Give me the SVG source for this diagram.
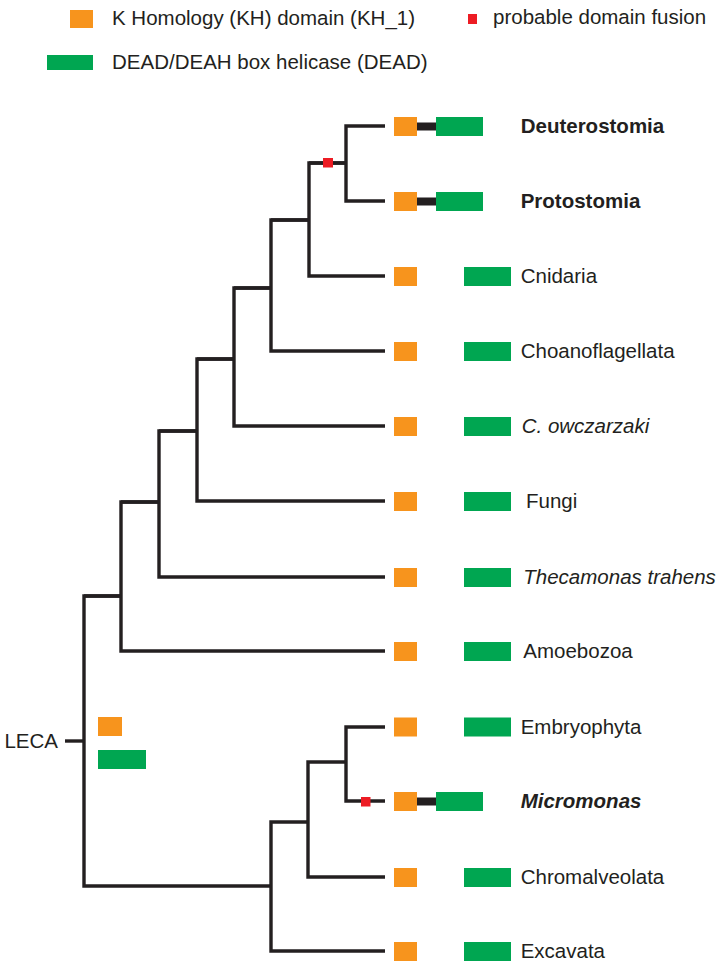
<svg xmlns="http://www.w3.org/2000/svg" width="717" height="966" viewBox="0 0 717 966">
<style>
  .t { font-family: "Liberation Sans", Arial, sans-serif; font-size: 20.5px; fill: #231f20; }
  .b { font-weight: bold; }
  .i { font-style: italic; }
  .kh { fill: #f7941d; }
  .dd { fill: #00a651; }
  .fu { fill: #ed1c24; }
  .lk { fill: #231f20; }
  .br { fill: none; stroke: #231f20; stroke-width: 3.4; stroke-linejoin: miter; stroke-linecap: butt; }
</style>
<rect width="717" height="966" fill="#ffffff"/>

<g id="legend">
  <rect class="kh" x="70" y="10" width="23" height="18"/>
  <text class="t" x="112" y="25">K Homology (KH) domain (KH_1)</text>
  <rect class="dd" x="47" y="55" width="46" height="15"/>
  <text class="t" x="112" y="69">DEAD/DEAH box helicase (DEAD)</text>
  <rect class="fu" x="468" y="14" width="9" height="10"/>
  <text class="t" x="493" y="24">probable domain fusion</text>
</g>

<g id="connectors">
  <path class="br" d="M385,126 H346 V201 H385"/>
  <path class="br" d="M309,163 H346"/>
  <path class="br" d="M346,163 H309 V276 H385"/>
  <path class="br" d="M271,220 H309"/>
  <path class="br" d="M309,220 H271 V351 H385"/>
  <path class="br" d="M234,288 H271"/>
  <path class="br" d="M271,288 H234 V426 H385"/>
  <path class="br" d="M197,359 H234"/>
  <path class="br" d="M234,359 H197 V501 H385"/>
  <path class="br" d="M159,431 H197"/>
  <path class="br" d="M197,431 H159 V577 H385"/>
  <path class="br" d="M121,502 H159"/>
  <path class="br" d="M159,502 H121 V651 H385"/>
  <path class="br" d="M84,596 H121"/>
  <path class="br" d="M121,596 H84 V886 H271"/>
  <path class="br" d="M65,741 H84"/>
  <path class="br" d="M308,822 H271 V951 H385"/>
  <path class="br" d="M346,762 H308 V877 H385"/>
  <path class="br" d="M385,727 H346 V801 H385"/>
  <rect class="fu" x="323" y="158" width="10" height="9.5"/>
  <rect class="fu" x="361" y="797" width="9.5" height="9.5"/>
</g>

<g id="LECA">
  <text class="t" x="58" y="748" text-anchor="end">LECA</text>
  <rect class="kh" x="98" y="717" width="24" height="19"/>
  <rect class="dd" x="98" y="750" width="48" height="19"/>
</g>

<g id="Deuterostomia">
  <rect class="kh" x="394" y="117" width="23" height="19"/>
  <rect class="lk" x="417" y="122.5" width="19" height="8"/>
  <rect class="dd" x="436" y="117" width="47" height="19"/>
  <text class="t b" x="520.7" y="133">Deuterostomia</text>
</g>
<g id="Protostomia">
  <rect class="kh" x="394" y="192" width="23" height="19"/>
  <rect class="lk" x="417" y="197.5" width="19" height="8"/>
  <rect class="dd" x="436" y="192" width="47" height="19"/>
  <text class="t b" x="520.7" y="208">Protostomia</text>
</g>
<g id="Cnidaria">
  <rect class="kh" x="394" y="267" width="23" height="19"/>
  <rect class="dd" x="464" y="267" width="47" height="19"/>
  <text class="t" x="520.7" y="283">Cnidaria</text>
</g>
<g id="Choanoflagellata">
  <rect class="kh" x="394" y="342" width="23" height="19"/>
  <rect class="dd" x="464" y="342" width="47" height="19"/>
  <text class="t" x="520.7" y="358">Choanoflagellata</text>
</g>
<g id="Cowczarzaki">
  <rect class="kh" x="394" y="417" width="23" height="19"/>
  <rect class="dd" x="464" y="417" width="47" height="19"/>
  <text class="t i" x="521.7" y="433">C. owczarzaki</text>
</g>
<g id="Fungi">
  <rect class="kh" x="394" y="492" width="23" height="19"/>
  <rect class="dd" x="464" y="492" width="47" height="19"/>
  <text class="t" x="526" y="508">Fungi</text>
</g>
<g id="Thecamonas">
  <rect class="kh" x="394" y="568" width="23" height="19"/>
  <rect class="dd" x="464" y="568" width="47" height="19"/>
  <text class="t i" x="523.3" y="584">Thecamonas trahens</text>
</g>
<g id="Amoebozoa">
  <rect class="kh" x="394" y="642" width="23" height="19"/>
  <rect class="dd" x="464" y="642" width="47" height="19"/>
  <text class="t" x="523.3" y="658">Amoebozoa</text>
</g>
<g id="Embryophyta">
  <rect class="kh" x="394" y="717.5" width="23" height="19"/>
  <rect class="dd" x="464" y="717.5" width="47" height="19"/>
  <text class="t" x="520.7" y="734">Embryophyta</text>
</g>
<g id="Micromonas">
  <rect class="kh" x="394" y="792" width="23" height="19"/>
  <rect class="lk" x="417" y="797.5" width="19" height="8"/>
  <rect class="dd" x="436" y="792" width="47" height="19"/>
  <text class="t b i" x="520.7" y="808">Micromonas</text>
</g>
<g id="Chromalveolata">
  <rect class="kh" x="394" y="868" width="23" height="19"/>
  <rect class="dd" x="464" y="868" width="47" height="19"/>
  <text class="t" x="520.7" y="884">Chromalveolata</text>
</g>
<g id="Excavata">
  <rect class="kh" x="394" y="942" width="23" height="19"/>
  <rect class="dd" x="464" y="942" width="47" height="19"/>
  <text class="t" x="520.7" y="958">Excavata</text>
</g>
</svg>
